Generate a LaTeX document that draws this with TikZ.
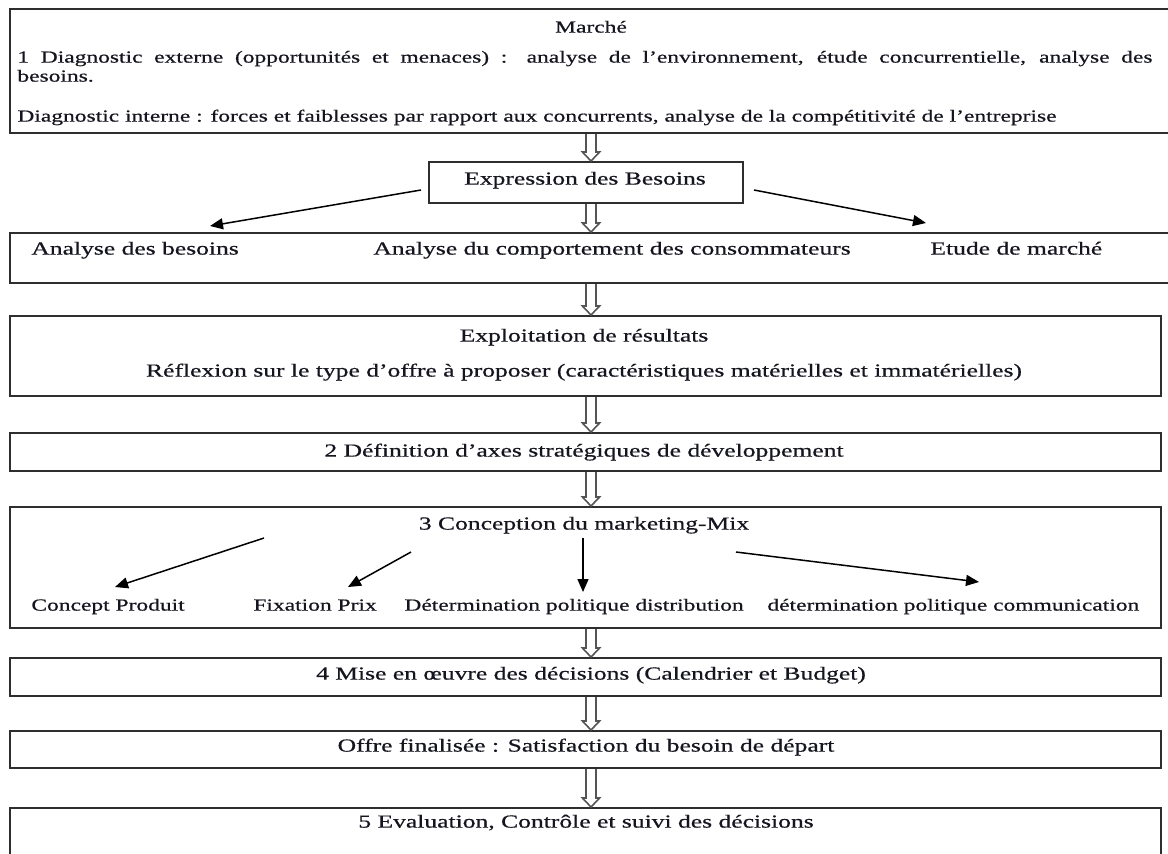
\documentclass[tikz,border=0pt]{standalone}
\usepackage{fontspec}
\setmainfont{Liberation Serif}[FakeStretch=1.39,FakeBold=0.6]
\usetikzlibrary{arrows.meta,calc}
\definecolor{ink}{HTML}{151520}
\definecolor{frame}{HTML}{2E2E2E}
\definecolor{arrowgray}{HTML}{555555}

% hollow downward block arrow between two points on the same vertical
\newcommand{\hollowdown}[2]{%
  \draw[hollowline] let \p1=(#1), \p2=(#2) in
    (\x1-2.5pt,\y1) -- (\x1-2.5pt,\y2+4.5pt) -- (\x1-4.3pt,\y2+4.5pt) --
    (\x1,\y2) -- (\x1+4.3pt,\y2+4.5pt) -- (\x1+2.5pt,\y2+4.5pt) -- (\x1+2.5pt,\y1);
}

\begin{document}
\begin{tikzpicture}[x=0.5pt,y=-0.5pt,
  box/.style={draw=frame,line width=1pt,anchor=north west,inner sep=0pt},
  txt/.style={inner sep=0pt,font=\fontsize{9.2}{11}\selectfont,text=ink},
  smalltxt/.style={txt,font=\fontsize{8.45}{10}\selectfont},
  thinarrow/.style={draw=black,line width=0.75pt,-{Triangle[length=6.5pt,width=5.5pt]}},
  hollowline/.style={draw=arrowgray,line width=0.8pt,line join=miter}]
\useasboundingbox[fill=white] (0,0) rectangle (1168,853);

% frames
\node[box,minimum width=581.5pt,minimum height=62pt]   (b1)  at (9,8)    {};
\node[box,minimum width=157pt,minimum height=20.5pt]   (exp) at (428,161) {};
\node[box,minimum width=581.5pt,minimum height=25pt]   (b3)  at (9,232)  {};
\node[box,minimum width=575.5pt,minimum height=40pt]   (b4)  at (9,315)  {};
\node[box,minimum width=575.5pt,minimum height=19pt]   (b5)  at (9,432)  {};
\node[box,minimum width=575.5pt,minimum height=60.5pt] (b6)  at (9,506)  {};
\node[box,minimum width=575.5pt,minimum height=19pt]   (b7)  at (9,657)  {};
\node[box,minimum width=575.5pt,minimum height=18.5pt] (b8)  at (9,730)  {};
\node[box,minimum width=575.5pt,minimum height=35pt]   (b9)  at (9,807)  {};

% market diagnosis
\node[smalltxt,anchor=mid] (t0) at (591,28) {Marché};
\node[smalltxt,anchor=mid west] (t1) at (17,58)
  {\makebox[567.5pt][s]{1 Diagnostic externe (opportunités et menaces) : analyse de l’environnement, étude concurrentielle, analyse des}};
\node[smalltxt,anchor=mid west] (t2) at (17,77) {besoins.};
\node[smalltxt,anchor=mid west] (t3) at (17,117)
  {Diagnostic interne : forces et faiblesses par rapport aux concurrents, analyse de la compétitivité de l’entreprise};

\node[txt,anchor=mid] (te) at (585,180) {Expression des Besoins};

\node[txt,anchor=mid west] (n1) at (31,250)  {Analyse des besoins};
\node[txt,anchor=mid west] (n2) at (373,250) {Analyse du comportement des consommateurs};
\node[txt,anchor=mid west] (n3) at (930,250) {Etude de marché};

\node[txt,anchor=mid] (r1) at (584,337) {Exploitation de résultats};
\node[txt,anchor=mid] (r2) at (584,372) {Réflexion sur le type d’offre à proposer (caractéristiques matérielles et immatérielles)};

\node[txt,anchor=mid] (s2) at (584,452) {2 Définition d’axes stratégiques de développement};

\node[txt,anchor=mid] (s3) at (584,525) {3 Conception du marketing-Mix};
\node[smalltxt,anchor=mid west] (m1) at (31,606)  {Concept Produit};
\node[smalltxt,anchor=mid west] (m2) at (253,606) {Fixation Prix};
\node[smalltxt,anchor=mid west] (m3) at (404,606) {Détermination politique distribution};
\node[smalltxt,anchor=mid west] (m4) at (767,606) {détermination politique communication};

\node[txt,anchor=mid] (s4) at (591,675) {4 Mise en œuvre des décisions (Calendrier et Budget)};
\node[txt,anchor=mid] (s5) at (586,747) {Offre finalisée : Satisfaction du besoin de départ};
\node[txt,anchor=mid] (s6) at (586,823) {5 Evaluation, Contrôle et suivi des décisions};

% block arrows down the main column
\coordinate (ax) at (591,0);
\hollowdown{b1.south -| ax}{exp.north -| ax}
\hollowdown{exp.south -| ax}{b3.north -| ax}
\hollowdown{b3.south -| ax}{b4.north -| ax}
\hollowdown{b4.south -| ax}{b5.north -| ax}
\hollowdown{b5.south -| ax}{b6.north -| ax}
\hollowdown{b6.south -| ax}{b7.north -| ax}
\hollowdown{b7.south -| ax}{b8.north -| ax}
\hollowdown{b8.south -| ax}{b9.north -| ax}

% branches of the needs expression
\coordinate (e1) at (421,190);
\coordinate (e1t) at (210,226);
\coordinate (e2) at (754,190);
\coordinate (e2t) at (926,223);
\draw[thinarrow] (e1) -- (e1t);
\draw[thinarrow] (e2) -- (e2t);

% branches of the marketing mix
\coordinate (c1) at (264,538);  \coordinate (c1t) at (115,587);
\coordinate (c2) at (411,552);  \coordinate (c2t) at (348,587);
\coordinate (c3) at (583,538);  \coordinate (c3t) at (583,592);
\coordinate (c4) at (736,552);  \coordinate (c4t) at (979,582);
\draw[thinarrow] (c1) -- (c1t);
\draw[thinarrow] (c2) -- (c2t);
\draw[thinarrow] (c3) -- (c3t);
\draw[thinarrow] (c4) -- (c4t);
\end{tikzpicture}
\end{document}
